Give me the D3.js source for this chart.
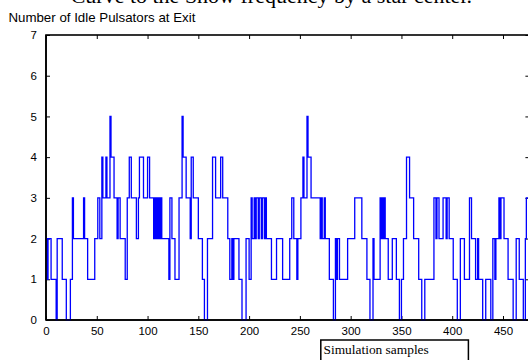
<!DOCTYPE html>
<html>
<head>
<meta charset="utf-8">
<script src="https://cdn.jsdelivr.net/npm/d3@7/dist/d3.min.js"></script>
<style>
  html, body { margin: 0; padding: 0; background: #fff; }
  svg { display: block; }
</style>
</head>
<body>
<script>
// ---- data ----
// sample index where the value changes, and the value from that sample on
const sampleIdx = [
  0, 1, 2, 5, 10, 11, 16, 20, 24, 26, 27, 37, 38, 41, 48, 51, 53, 55, 56, 59,
  60, 63, 64, 67, 70, 71, 73, 78, 80, 82, 84, 89, 91, 92, 96, 100, 102, 106, 107, 108,
  109, 110, 111, 112, 113, 114, 121, 122, 124, 127, 131, 134, 135, 138, 142, 143, 145, 150, 154, 156,
  159, 164, 167, 172, 174, 179, 181, 183, 184, 185, 190, 193, 197, 200, 202, 203, 205, 206, 207, 209,
  210, 212, 213, 215, 216, 217, 222, 227, 233, 240, 242, 244, 247, 248, 251, 253, 254, 257, 258, 261,
  270, 271, 272, 274, 275, 279, 283, 285, 286, 287, 289, 297, 304, 311, 316, 319, 322, 323, 329, 330,
  331, 332, 333, 334, 337, 341, 345, 348, 350, 352, 355, 358, 362, 367, 370, 373, 382, 384, 385, 387,
  391, 394, 395, 397, 401, 405, 408, 412, 417, 419, 423, 425, 426, 430, 433, 438, 440, 442, 443, 446,
  447, 448, 451, 455, 460, 463, 466, 470, 472, 473, 476
];
const idlePulsators = [
  2, 1, 2, 1, 0, 2, 1, 0, 1, 3, 2, 3, 2, 1, 2, 3, 2, 4, 3, 4,
  3, 5, 4, 3, 2, 3, 2, 1, 3, 4, 3, 2, 3, 4, 3, 4, 3, 2, 3, 2,
  3, 2, 3, 2, 3, 2, 1, 3, 2, 1, 3, 5, 4, 3, 2, 4, 3, 2, 1, 0,
  2, 4, 3, 4, 3, 2, 1, 2, 1, 2, 1, 0, 2, 1, 3, 2, 3, 2, 3, 2,
  3, 2, 3, 2, 3, 2, 1, 2, 1, 2, 3, 2, 1, 2, 3, 4, 3, 5, 4, 3,
  2, 3, 2, 3, 2, 1, 0, 2, 1, 2, 1, 2, 3, 2, 1, 0, 2, 1, 3, 2,
  3, 2, 3, 2, 1, 2, 1, 0, 1, 2, 4, 3, 2, 1, 0, 1, 3, 2, 3, 2,
  3, 2, 3, 2, 1, 0, 2, 1, 3, 2, 1, 2, 1, 0, 1, 0, 2, 1, 2, 3,
  2, 3, 2, 1, 0, 2, 1, 0, 2, 3, 3
];
const xTicks = [0, 50, 100, 150, 200, 250, 300, 350, 400, 450];
const yTicks = [0, 1, 2, 3, 4, 5, 6, 7];
const xDomain = [0, 476];
const yDomain = [0, 7];
const yLabel = "Number of Idle Pulsators at Exit";
const xLabel = "Simulation samples";
const topCaption = "Curve to the Show frequency by a star center.";

// ---- drawing ----
const W = 528, H = 360;
const svg = d3.select("body").append("svg")
  .attr("width", W).attr("height", H)
  .style("background", "#fff");

const x = d3.scaleLinear().domain(xDomain).range([46, 529.4]);
const y = d3.scaleLinear().domain(yDomain).range([320, 35]);

// cropped caption at the very top
svg.append("text")
  .attr("x", 472).attr("y", 2.8)
  .attr("text-anchor", "end")
  .style("font-family", "'Liberation Serif','Times New Roman',serif")
  .style("font-size", "22px")
  .attr("fill", "#000")
  .text(topCaption);

// y-axis title (above plot, top-left)
svg.append("text")
  .attr("x", 8.4).attr("y", 22)
  .style("font-family", "'Liberation Sans',Arial,sans-serif")
  .style("font-size", "13.3px")
  .attr("fill", "#000")
  .text(yLabel);

const tickFont = g => g.selectAll("text")
  .style("font-family", "'Liberation Sans',Arial,sans-serif")
  .style("font-size", "11.5px")
  .attr("fill", "#000");

// axes with inward ticks on all four sides
const gB = svg.append("g").attr("transform", `translate(0,${y(0)})`)
  .call(d3.axisBottom(x).tickValues(xTicks).tickSize(-4).tickPadding(7).tickFormat(d3.format("d")));
const gL = svg.append("g").attr("transform", `translate(${x(0)},0)`)
  .call(d3.axisLeft(y).tickValues(yTicks).tickSize(-4).tickPadding(9).tickFormat(d3.format("d")));
const gT = svg.append("g").attr("transform", `translate(0,${y(7)})`)
  .call(d3.axisTop(x).tickValues(xTicks).tickSize(-4).tickFormat(""));
const gR = svg.append("g").attr("transform", `translate(${x(xDomain[1])},0)`)
  .call(d3.axisRight(y).tickValues(yTicks).tickSize(-4).tickFormat(""));
[gB, gL, gT, gR].forEach(g => {
  g.select(".domain").remove();
  g.selectAll(".tick line").attr("stroke", "#000").attr("stroke-width", 1);
  tickFont(g);
});

// plot frame
svg.append("rect")
  .attr("x", x(0)).attr("y", y(7))
  .attr("width", x(xDomain[1]) - x(0)).attr("height", y(0) - y(7))
  .attr("fill", "none").attr("stroke", "#000").attr("stroke-width", 1.6);

// data line
const pts = sampleIdx.map((s, i) => [s, idlePulsators[i]]);
const line = d3.line()
  .x(d => x(d[0])).y(d => y(d[1]))
  .curve(d3.curveStepAfter);
svg.append("path")
  .datum(pts)
  .attr("d", line)
  .attr("fill", "none")
  .attr("stroke", "#0000ff")
  .attr("stroke-width", 1.3)
  .attr("stroke-linejoin", "miter");

// redraw left/bottom frame edges on top of the line
svg.append("line").attr("x1", x(0)).attr("x2", x(xDomain[1])).attr("y1", y(0)).attr("y2", y(0))
  .attr("stroke", "#000").attr("stroke-width", 1.6);
svg.append("line").attr("x1", x(0)).attr("x2", x(0)).attr("y1", y(0)).attr("y2", y(7))
  .attr("stroke", "#000").attr("stroke-width", 1.6);

// x-axis title box (cropped at the bottom)
svg.append("rect")
  .attr("x", 320.8).attr("y", 340)
  .attr("width", 147.6).attr("height", 30)
  .attr("fill", "#fff").attr("stroke", "#000").attr("stroke-width", 1.5);
svg.append("text")
  .attr("x", 323.5).attr("y", 354)
  .style("font-family", "'Liberation Serif','Times New Roman',serif")
  .style("font-size", "13.4px")
  .attr("fill", "#000")
  .text(xLabel);
</script>
</body>
</html>
